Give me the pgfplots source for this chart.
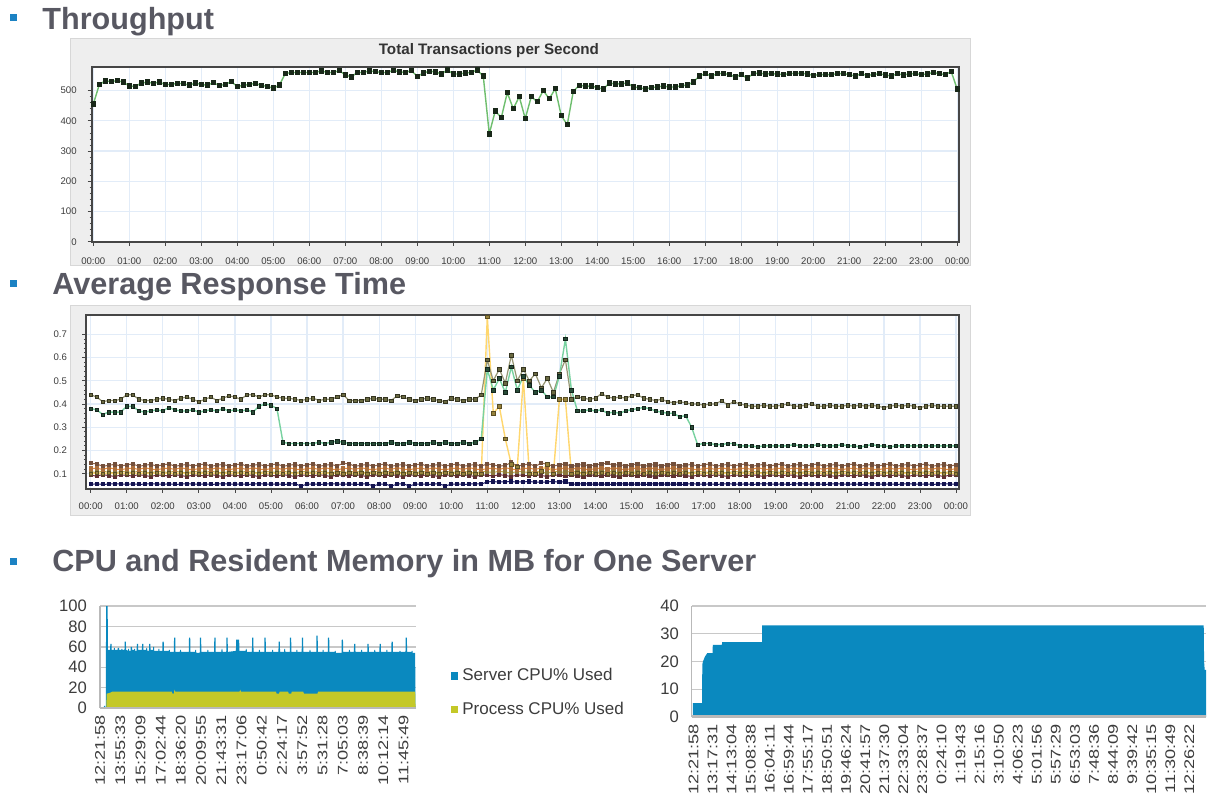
\documentclass[border=0pt]{standalone}
\usepackage{fontspec}
\setmainfont{Liberation Sans}
\usepackage{graphicx}
\usepackage{pgfplots}
\usepackage{pgfplotstable}
\pgfplotsset{compat=1.18}

\definecolor{bulletblue}{RGB}{28,130,195}
\definecolor{titlegray}{RGB}{88,88,98}
\definecolor{panelgray}{RGB}{238,238,238}
\definecolor{paneledge}{RGB}{215,215,215}
\definecolor{gridblue}{RGB}{226,236,248}
\definecolor{axisdark}{RGB}{70,70,70}
\definecolor{ticktext}{RGB}{60,60,60}
\definecolor{tpsline}{RGB}{110,190,110}
\definecolor{markdark}{RGB}{25,40,25}
\definecolor{serverblue}{RGB}{10,137,191}
\definecolor{procgreen}{RGB}{196,200,40}
\definecolor{Aline}{RGB}{150,150,115}
\definecolor{Amark}{RGB}{105,105,65}
\definecolor{Bline}{RGB}{120,210,160}
\definecolor{Bmark}{RGB}{40,75,55}
\definecolor{Cline}{RGB}{255,215,110}
\definecolor{Cmark}{RGB}{150,130,60}
\definecolor{D1line}{RGB}{150,100,70}
\definecolor{D1mark}{RGB}{115,80,60}
\definecolor{D2line}{RGB}{235,140,60}
\definecolor{D2mark}{RGB}{170,110,60}
\definecolor{D3line}{RGB}{190,170,80}
\definecolor{D3mark}{RGB}{140,120,60}
\definecolor{D4line}{RGB}{120,40,60}
\definecolor{D4mark}{RGB}{95,50,50}
\definecolor{Nline}{RGB}{30,30,110}
\definecolor{Nmark}{RGB}{20,20,80}
\definecolor{basegray}{RGB}{185,185,185}
\definecolor{gridgray}{RGB}{200,200,200}

\newcommand{\rl}[1]{\scalebox{1.3}[1]{#1}}

\pgfplotstableread{
i v
0 455
1 520
2 532
3 530
4 533
5 528
6 515
7 514
8 525
9 528
10 524
11 528
12 520
13 520
14 524
15 523
16 518
17 525
18 520
19 518
20 526
21 517
22 520
23 530
24 513
25 518
26 520
27 524
28 517
29 514
30 508
31 518
32 556
33 560
34 560
35 560
36 560
37 560
38 565
39 560
40 560
41 566
42 552
43 545
44 560
45 560
46 565
47 563
48 560
49 560
50 567
51 562
52 560
53 566
54 547
55 558
56 564
57 562
58 555
59 568
60 555
61 555
62 558
63 560
64 568
65 548
66 357
67 433
68 410
69 493
70 440
71 480
72 407
73 480
74 463
75 500
76 473
77 506
78 417
79 387
80 497
81 517
82 515
83 515
84 510
85 505
86 525
87 522
88 522
89 525
90 512
91 510
92 505
93 510
94 512
95 515
96 512
97 512
98 516
99 518
100 528
101 548
102 556
103 548
104 556
105 557
106 553
107 545
108 553
109 541
110 556
111 558
112 555
113 556
114 555
115 553
116 556
117 557
118 557
119 555
120 550
121 553
122 553
123 553
124 556
125 556
126 553
127 548
128 556
129 550
130 553
131 556
132 552
133 548
134 556
135 552
136 555
137 556
138 553
139 555
140 560
141 556
142 553
143 563
144 505
}\tpstable

\pgfplotstableread{
i A B C D1 D2 D3 D4 N
0 .44 .38 .100 .145 .122 .108 .093 .055
1 .43 .375 .103 .142 .124 .105 .090 .056
2 .41 .355 .100 .132 .118 .111 .096 .054
3 .415 .365 .103 .136 .126 .106 .092 .055
4 .415 .365 .100 .140 .120 .104 .088 .057
5 .42 .365 .103 .133 .117 .109 .094 .055
6 .44 .39 .100 .138 .122 .108 .093 .055
7 .44 .39 .103 .142 .124 .105 .090 .056
8 .42 .37 .100 .132 .118 .111 .096 .054
9 .415 .365 .103 .136 .126 .106 .092 .055
10 .415 .37 .100 .140 .120 .104 .088 .057
11 .42 .375 .103 .133 .117 .109 .094 .055
12 .425 .37 .100 .138 .122 .108 .093 .055
13 .42 .385 .103 .142 .124 .105 .090 .056
14 .415 .375 .100 .132 .118 .111 .096 .054
15 .425 .37 .103 .136 .126 .106 .092 .055
16 .43 .37 .100 .140 .120 .104 .088 .057
17 .42 .375 .103 .133 .117 .109 .094 .055
18 .41 .365 .100 .138 .122 .108 .093 .055
19 .42 .37 .103 .142 .124 .105 .090 .056
20 .43 .375 .100 .132 .118 .111 .096 .054
21 .415 .37 .103 .136 .126 .106 .092 .055
22 .425 .38 .100 .140 .120 .104 .088 .057
23 .435 .37 .103 .133 .117 .109 .094 .055
24 .43 .375 .100 .138 .122 .108 .093 .055
25 .42 .37 .103 .142 .124 .105 .090 .056
26 .44 .375 .100 .132 .118 .111 .096 .054
27 .44 .365 .103 .136 .126 .106 .092 .055
28 .43 .39 .100 .140 .120 .104 .088 .057
29 .44 .40 .103 .133 .117 .109 .094 .055
30 .44 .395 .100 .138 .122 .108 .093 .055
31 .43 .38 .103 .142 .124 .105 .090 .056
32 .425 .235 .100 .132 .118 .111 .096 .054
33 .425 .23 .103 .136 .126 .106 .092 .055
34 .42 .23 .100 .140 .120 .104 .088 .057
35 .415 .23 .103 .133 .117 .109 .094 .047
36 .42 .23 .100 .138 .122 .108 .093 .055
37 .425 .23 .103 .142 .124 .105 .090 .056
38 .415 .235 .100 .132 .118 .111 .096 .054
39 .42 .23 .103 .136 .126 .106 .092 .055
40 .42 .235 .100 .140 .120 .104 .088 .057
41 .43 .24 .103 .133 .117 .109 .094 .055
42 .44 .235 .100 .145 .122 .108 .093 .055
43 .415 .23 .103 .142 .124 .105 .090 .056
44 .415 .23 .100 .132 .118 .111 .096 .054
45 .415 .23 .103 .136 .126 .106 .092 .055
46 .42 .23 .100 .140 .120 .104 .088 .057
47 .425 .23 .103 .133 .117 .109 .094 .047
48 .42 .23 .100 .138 .122 .108 .093 .055
49 .42 .23 .103 .142 .124 .105 .090 .056
50 .415 .235 .100 .132 .118 .111 .096 .047
51 .435 .23 .103 .136 .126 .106 .092 .055
52 .43 .23 .100 .140 .120 .104 .088 .057
53 .42 .235 .103 .133 .117 .109 .094 .047
54 .415 .23 .100 .138 .122 .108 .093 .055
55 .42 .23 .103 .142 .124 .105 .090 .056
56 .425 .23 .100 .132 .118 .111 .096 .054
57 .42 .235 .103 .136 .126 .106 .092 .055
58 .415 .23 .100 .140 .120 .104 .088 .057
59 .41 .235 .103 .133 .117 .109 .094 .047
60 .425 .23 .100 .138 .122 .108 .093 .055
61 .42 .23 .103 .142 .124 .105 .090 .056
62 .415 .235 .100 .132 .118 .111 .096 .054
63 .42 .23 .103 .136 .126 .106 .092 .055
64 .42 .235 .100 .140 .120 .104 .088 .057
65 .44 .25 .100 .133 .117 .109 .094 .055
66 .59 .55 .776 .142 .122 .108 .093 .065
67 .50 .46 .36 .138 .124 .105 .090 .066
68 .55 .51 .39 .132 .118 .111 .096 .064
69 .49 .45 .25 .136 .126 .106 .092 .065
70 .61 .56 .14 .148 .120 .104 .088 .066
71 .50 .46 .13 .133 .117 .109 .094 .064
72 .55 .52 .51 .138 .122 .108 .093 .065
73 .50 .48 .10 .142 .124 .105 .090 .066
74 .53 .45 .10 .132 .118 .111 .096 .064
75 .47 .46 .11 .146 .126 .106 .092 .063
76 .51 .43 .14 .140 .120 .104 .088 .065
77 .45 .43 .10 .133 .117 .109 .094 .066
78 .53 .52 .42 .138 .122 .108 .093 .064
79 .59 .68 .42 .142 .124 .105 .090 .066
80 .42 .46 .10 .132 .118 .111 .096 .055
81 .43 .37 .103 .136 .126 .106 .092 .055
82 .425 .37 .100 .140 .120 .104 .088 .057
83 .42 .375 .103 .133 .117 .109 .094 .055
84 .425 .37 .100 .138 .122 .108 .093 .055
85 .445 .375 .103 .142 .124 .105 .090 .056
86 .43 .36 .100 .145 .118 .111 .096 .054
87 .425 .365 .103 .136 .126 .106 .092 .055
88 .43 .36 .100 .140 .120 .104 .088 .057
89 .425 .37 .103 .133 .117 .109 .094 .055
90 .435 .375 .100 .138 .122 .108 .093 .055
91 .44 .38 .103 .142 .124 .105 .090 .056
92 .425 .385 .100 .132 .118 .111 .096 .054
93 .42 .38 .103 .136 .126 .106 .092 .055
94 .415 .37 .100 .140 .120 .104 .088 .057
95 .42 .365 .103 .133 .117 .109 .094 .055
96 .41 .36 .100 .138 .122 .108 .093 .055
97 .405 .36 .103 .142 .124 .105 .090 .056
98 .41 .345 .100 .132 .118 .111 .096 .054
99 .405 .35 .103 .136 .126 .106 .092 .055
100 .40 .30 .100 .140 .120 .104 .088 .057
101 .40 .225 .103 .133 .117 .109 .094 .055
102 .395 .23 .100 .138 .122 .108 .093 .055
103 .40 .23 .103 .142 .124 .105 .090 .056
104 .40 .225 .100 .132 .118 .111 .096 .054
105 .415 .225 .103 .136 .126 .106 .092 .055
106 .395 .23 .100 .140 .120 .104 .088 .057
107 .41 .23 .103 .133 .117 .109 .094 .055
108 .40 .22 .100 .138 .122 .108 .093 .055
109 .395 .22 .103 .142 .124 .105 .090 .056
110 .39 .22 .100 .132 .118 .111 .096 .054
111 .39 .215 .103 .136 .126 .106 .092 .055
112 .395 .22 .100 .140 .120 .104 .088 .057
113 .39 .22 .103 .133 .117 .109 .094 .055
114 .39 .22 .100 .138 .122 .108 .093 .055
115 .395 .22 .103 .142 .124 .105 .090 .056
116 .40 .22 .100 .132 .118 .111 .096 .054
117 .39 .225 .103 .136 .126 .106 .092 .055
118 .39 .22 .100 .140 .120 .104 .088 .057
119 .395 .22 .103 .133 .117 .109 .094 .055
120 .40 .22 .100 .138 .122 .108 .093 .055
121 .39 .225 .103 .142 .124 .105 .090 .056
122 .39 .22 .100 .132 .118 .111 .096 .054
123 .395 .22 .103 .136 .126 .106 .092 .055
124 .39 .22 .100 .140 .120 .104 .088 .057
125 .39 .225 .103 .133 .117 .109 .094 .055
126 .395 .22 .100 .138 .122 .108 .093 .055
127 .39 .22 .103 .142 .124 .105 .090 .056
128 .395 .215 .100 .132 .118 .111 .096 .054
129 .39 .22 .103 .136 .126 .106 .092 .055
130 .395 .225 .100 .140 .120 .104 .088 .057
131 .39 .22 .103 .133 .117 .109 .094 .055
132 .385 .22 .100 .138 .122 .108 .093 .055
133 .39 .215 .103 .142 .124 .105 .090 .056
134 .395 .22 .100 .132 .118 .111 .096 .054
135 .39 .22 .103 .136 .126 .106 .092 .055
136 .395 .22 .100 .140 .120 .104 .088 .057
137 .39 .22 .103 .133 .117 .109 .094 .055
138 .385 .22 .100 .138 .122 .108 .093 .055
139 .39 .22 .103 .142 .124 .105 .090 .056
140 .395 .22 .100 .132 .118 .111 .096 .054
141 .39 .22 .103 .136 .126 .106 .092 .055
142 .39 .22 .100 .140 .120 .104 .088 .057
143 .39 .22 .103 .133 .117 .109 .094 .055
144 .39 .22 .100 .138 .122 .108 .093 .055
}\rttable

\pgfplotsset{
  topchart/.style={
    scale only axis,
    axis background/.style={fill=white},
    grid=major,
    grid style={draw=gridblue, line width=0.6pt},
    axis line style={draw=axisdark, line width=0.9pt},
    tick pos=left,
    tick align=outside,
    major tick length=2pt,
    minor tick length=1.1pt,
    tick style={draw=axisdark, line width=0.4pt},
    xtick={0,6,...,144},
    xticklabels={00:00,01:00,02:00,03:00,04:00,05:00,06:00,07:00,08:00,09:00,10:00,11:00,12:00,13:00,14:00,15:00,16:00,17:00,18:00,19:00,20:00,21:00,22:00,23:00,00:00},
    ticklabel style={font=\fontsize{4.8}{5.5}\selectfont, text=ticktext},
    /pgf/number format/assume math mode=true,
  },
  bottomchart/.style={
    scale only axis,
    axis lines=left,
    axis line style={-},
    x axis line style={draw=none},
    y axis line style={draw=basegray, line width=0.6pt},
    ymajorgrids,
    grid style={draw=gridgray, line width=0.7pt},
    major tick length=0pt,
    yticklabel style={font=\fontsize{8.3}{9}\selectfont, text=ticktext, xshift=-3pt},
    xticklabel style={font=\fontsize{7}{8}\selectfont, text=ticktext, rotate=90, anchor=east},
    /pgf/number format/assume math mode=true,
  },
  bandplot/.style={line width=0.5pt, mark=square*, mark size=0.8pt, mark options={line width=0.25pt}},
}

\begin{document}
\begin{tikzpicture}
\useasboundingbox (0,0) rectangle (610pt,-400pt);

% section bullets and titles
\fill[bulletblue] (5pt,-7pt) rectangle (8.5pt,-10.5pt);
\node[anchor=base west, inner sep=0pt, font=\fontsize{15.3}{18}\selectfont\bfseries, text=titlegray] at (21pt,-14.5pt) {Throughput};
\fill[bulletblue] (5pt,-140pt) rectangle (8.5pt,-143.5pt);
\node[anchor=base west, inner sep=0pt, font=\fontsize{15.3}{18}\selectfont\bfseries, text=titlegray] at (26pt,-147pt) {Average Response Time};
\fill[bulletblue] (5pt,-279pt) rectangle (8.5pt,-282.5pt);
\node[anchor=base west, inner sep=0pt, font=\fontsize{15.3}{18}\selectfont\bfseries, text=titlegray] at (26pt,-285.5pt) {CPU and Resident Memory in MB for One Server};

% chart panels
\filldraw[fill=panelgray, draw=paneledge, line width=0.5pt] (35pt,-19pt) rectangle (485pt,-132.5pt);
\filldraw[fill=panelgray, draw=paneledge, line width=0.5pt] (35pt,-152.5pt) rectangle (485pt,-257.5pt);

% ---------- Throughput ----------
\begin{axis}[topchart,
  at={(45.85pt,-33.5pt)}, anchor=north west,
  width=433.65pt, height=87.35pt,
  xmin=-0.27, xmax=144.3, ymin=0, ymax=578,
  ytick={0,100,...,500}, minor y tick num=4,
  xticklabel style={yshift=-2.5pt},
  yticklabel style={xshift=-2pt},
  title={Total Transactions per Second},
  title style={font=\fontsize{7.6}{9}\selectfont\bfseries, text=black!80, anchor=base, at={(0.458,1)}, yshift=0.2pt},
]
\addplot[draw=tpsline, line width=0.7pt, mark=square*, mark size=1pt,
  mark options={fill=markdark, draw=markdark}] table[x=i, y=v] {\tpstable};
\end{axis}

% ---------- Average Response Time ----------
\begin{axis}[topchart,
  at={(43pt,-157.5pt)}, anchor=north west,
  width=436.5pt, height=86.85pt,
  xmin=-0.78, xmax=144.5, ymin=0.0354, ymax=0.783,
  ytick={0.1,0.2,0.3,0.4,0.5,0.6,0.7},
  yticklabels={0.1,0.2,0.3,0.4,0.5,0.6,0.7},
  minor y tick num=4,
  xticklabel style={yshift=-1.5pt},
  yticklabel style={xshift=-4pt},
]
\addplot[bandplot, draw=D4line, mark options={fill=D4mark, draw=D4mark}] table[x=i, y=D4] {\rttable};
\addplot[bandplot, draw=D3line, mark options={fill=D3mark, draw=D3mark}] table[x=i, y=D3] {\rttable};
\addplot[bandplot, draw=D2line, mark options={fill=D2mark, draw=D2mark}] table[x=i, y=D2] {\rttable};
\addplot[bandplot, draw=D1line, mark options={fill=D1mark, draw=D1mark}] table[x=i, y=D1] {\rttable};
\addplot[draw=white, line width=1.1pt] coordinates {(0,0.075) (65,0.075) (66,0.082) (79,0.082) (80,0.075) (144,0.075)};
\addplot[bandplot, draw=Nline, mark options={fill=Nmark, draw=Nmark}] table[x=i, y=N] {\rttable};
\addplot[draw=Cline, line width=0.7pt, mark=square*, mark size=0.85pt, mark options={fill=Cmark, draw=Cmark!60!black, line width=0.25pt}] table[x=i, y=C] {\rttable};
\addplot[draw=Aline, line width=0.6pt, mark=square*, mark size=0.85pt, mark options={fill=Amark, draw=Amark!50!black, line width=0.25pt}] table[x=i, y=A] {\rttable};
\addplot[draw=Bline, line width=0.7pt, mark=square*, mark size=0.85pt, mark options={fill=Bmark, draw=Bmark!50!black, line width=0.25pt}] table[x=i, y=B] {\rttable};
\end{axis}

% ---------- CPU ----------
\begin{axis}[bottomchart,
  at={(50pt,-303pt)}, anchor=north west,
  width=158pt, height=51pt,
  xmin=0, xmax=15.62, ymin=0, ymax=100,
  ytick={0,20,...,100},
  xtick={0,1,...,15},
  xticklabels={\rl{12:21:58},\rl{13:55:33},\rl{15:29:09},\rl{17:02:44},\rl{18:36:20},\rl{20:09:55},\rl{21:43:31},\rl{23:17:06},\rl{0:50:42},\rl{2:24:17},\rl{3:57:52},\rl{5:31:28},\rl{7:05:03},\rl{8:38:39},\rl{10:12:14},\rl{11:45:49}},
  legend cell align=left,
  legend style={draw=none, fill=none, at={(1.11,0.15)}, anchor=west,
    font=\fontsize{8.5}{10}\selectfont, text=ticktext, row sep=5pt, inner sep=0pt},
  legend image code/.code={\fill[#1] (0pt,-1.8pt) rectangle (3.6pt,1.8pt);},
]
\addplot[fill=serverblue, draw=none] coordinates {
(0,0) (0.19,0) (0.2,2) (0.25,2) (0.26,0) (0.29,0) (0.3,100) (0.38,100) (0.39,57)
(0.5,57) (0.51,63) (0.57,63) (0.58,57)
(0.68,57) (0.69,59) (0.73,59) (0.74,57) (0.87,57) (0.88,59) (0.94,59) (0.95,57) (1.05,57) (1.06,58) (1.1,58) (1.11,57)
(1.21,57) (1.22,65) (1.28,65) (1.29,57) (1.38,56) (1.39,58) (1.43,58) (1.44,56) (1.51,56) (1.52,60) (1.58,60) (1.59,57)
(1.68,57) (1.69,58) (1.73,58) (1.74,56) (1.81,56) (1.82,63) (1.88,63) (1.89,57) (2.07,57) (2.08,63) (2.14,63) (2.15,57)
(2.28,57) (2.29,59) (2.33,59) (2.34,56) (2.42,56) (2.43,63) (2.49,63) (2.5,57) (2.62,57) (2.63,60) (2.67,60) (2.68,56)
(2.88,56) (2.89,58) (2.93,58) (2.94,56) (3.08,56) (3.09,65) (3.15,65) (3.16,56) (3.4,56) (3.41,57) (3.45,57) (3.46,55)
(3.65,55) (3.66,69) (3.72,69) (3.73,55) (3.95,55) (3.96,57) (4.0,57) (4.01,55) (4.39,55) (4.4,69) (4.46,69) (4.47,55)
(4.7,55) (4.71,57) (4.75,57) (4.76,54) (4.93,54) (4.94,69) (5.0,69) (5.01,55) (5.3,55) (5.31,57) (5.35,57) (5.36,55)
(5.64,55) (5.65,69) (5.71,69) (5.72,55) (6.0,55) (6.01,58) (6.05,58) (6.06,55) (6.24,55) (6.25,69) (6.31,69) (6.32,55)
(6.72,56) (6.73,67) (6.88,67) (6.89,56) (7.2,56) (7.21,58) (7.25,58) (7.26,55) (7.51,55) (7.52,69) (7.58,69) (7.59,55)
(7.85,55) (7.86,57) (7.9,57) (7.91,55) (8.12,55) (8.13,69) (8.19,69) (8.2,55) (8.5,55) (8.51,57) (8.55,57) (8.56,55)
(8.82,55) (8.83,65) (8.89,65) (8.9,55) (9.1,55) (9.11,58) (9.15,58) (9.16,55) (9.38,55) (9.39,69) (9.45,69) (9.46,55)
(9.7,55) (9.71,57) (9.75,57) (9.76,55) (9.97,55) (9.98,69) (10.04,69) (10.05,55) (10.35,55) (10.36,57) (10.4,57) (10.41,55)
(10.69,55) (10.7,71) (10.76,71) (10.77,55) (11.0,55) (11.01,57) (11.05,57) (11.06,55) (11.26,55) (11.27,69) (11.33,69) (11.34,55)
(11.6,55) (11.61,56) (11.65,56) (11.66,54) (11.94,54) (11.95,67) (12.01,67) (12.02,55) (12.3,55) (12.31,57) (12.35,57) (12.36,55)
(12.55,55) (12.56,63) (12.62,63) (12.63,55) (12.9,55) (12.91,57) (12.95,57) (12.96,55) (13.21,55) (13.22,63) (13.28,63) (13.29,55)
(13.55,55) (13.56,57) (13.6,57) (13.61,55) (13.81,55) (13.82,63) (13.88,63) (13.89,55) (14.15,55) (14.16,57) (14.2,57) (14.21,55)
(14.4,55) (14.41,65) (14.47,65) (14.48,55) (14.8,55) (14.81,56) (14.85,56) (14.86,55) (15.1,55) (15.11,69) (15.17,69) (15.18,55)
(15.4,55) (15.41,56) (15.45,56) (15.46,54) (15.58,54) (15.59,2) (15.62,0)
} \closedcycle;
\addlegendentry{Server CPU\% Used}
\addplot[fill=procgreen, draw=none] coordinates {
(0,0) (0.31,0) (0.33,14) (0.5,15) (0.6,16) (3.55,16) (3.58,14) (3.65,14) (3.68,18) (3.72,16)
(6.9,16) (6.93,18) (6.97,16) (8.7,16) (8.73,14) (8.85,14) (8.88,16) (9.3,16) (9.33,14)
(9.45,14) (9.48,16) (10.05,16) (10.08,14) (10.75,14) (10.78,16) (15.58,16) (15.6,0)
} \closedcycle;
\addlegendentry{Process CPU\% Used}
\draw[basegray, line width=1.5pt] (rel axis cs:0,0) -- (rel axis cs:1,0);
\end{axis}

% ---------- Resident memory ----------
\begin{axis}[bottomchart,
  at={(345.9pt,-303pt)}, anchor=north west,
  width=257.1pt, height=55.5pt,
  xmin=-0.09, xmax=26.87, ymin=0, ymax=40,
  ytick={0,10,...,40},
  xtick={0,1,...,26},
  xticklabels={\rl{12:21:58},\rl{13:17:31},\rl{14:13:04},\rl{15:08:38},\rl{16:04:11},\rl{16:59:44},\rl{17:55:17},\rl{18:50:51},\rl{19:46:24},\rl{20:41:57},\rl{21:37:30},\rl{22:33:04},\rl{23:28:37},\rl{0:24:10},\rl{1:19:43},\rl{2:15:16},\rl{3:10:50},\rl{4:06:23},\rl{5:01:56},\rl{5:57:29},\rl{6:53:03},\rl{7:48:36},\rl{8:44:09},\rl{9:39:42},\rl{10:35:15},\rl{11:30:49},\rl{12:26:22}},
]
\addplot[fill=serverblue, draw=none] coordinates {
(-0.04,0) (-0.04,5) (0.45,5) (0.46,19) (0.5,20) (0.55,21) (0.62,22) (0.72,23) (1.0,23)
(1.01,26) (1.49,26) (1.5,27) (3.59,27) (3.6,33) (26.75,33) (26.77,20) (26.8,17) (26.87,17) (26.87,0)
} \closedcycle;
\draw[basegray, line width=2pt] (rel axis cs:0,0) -- (rel axis cs:1,0);
\end{axis}

\end{tikzpicture}
\end{document}
